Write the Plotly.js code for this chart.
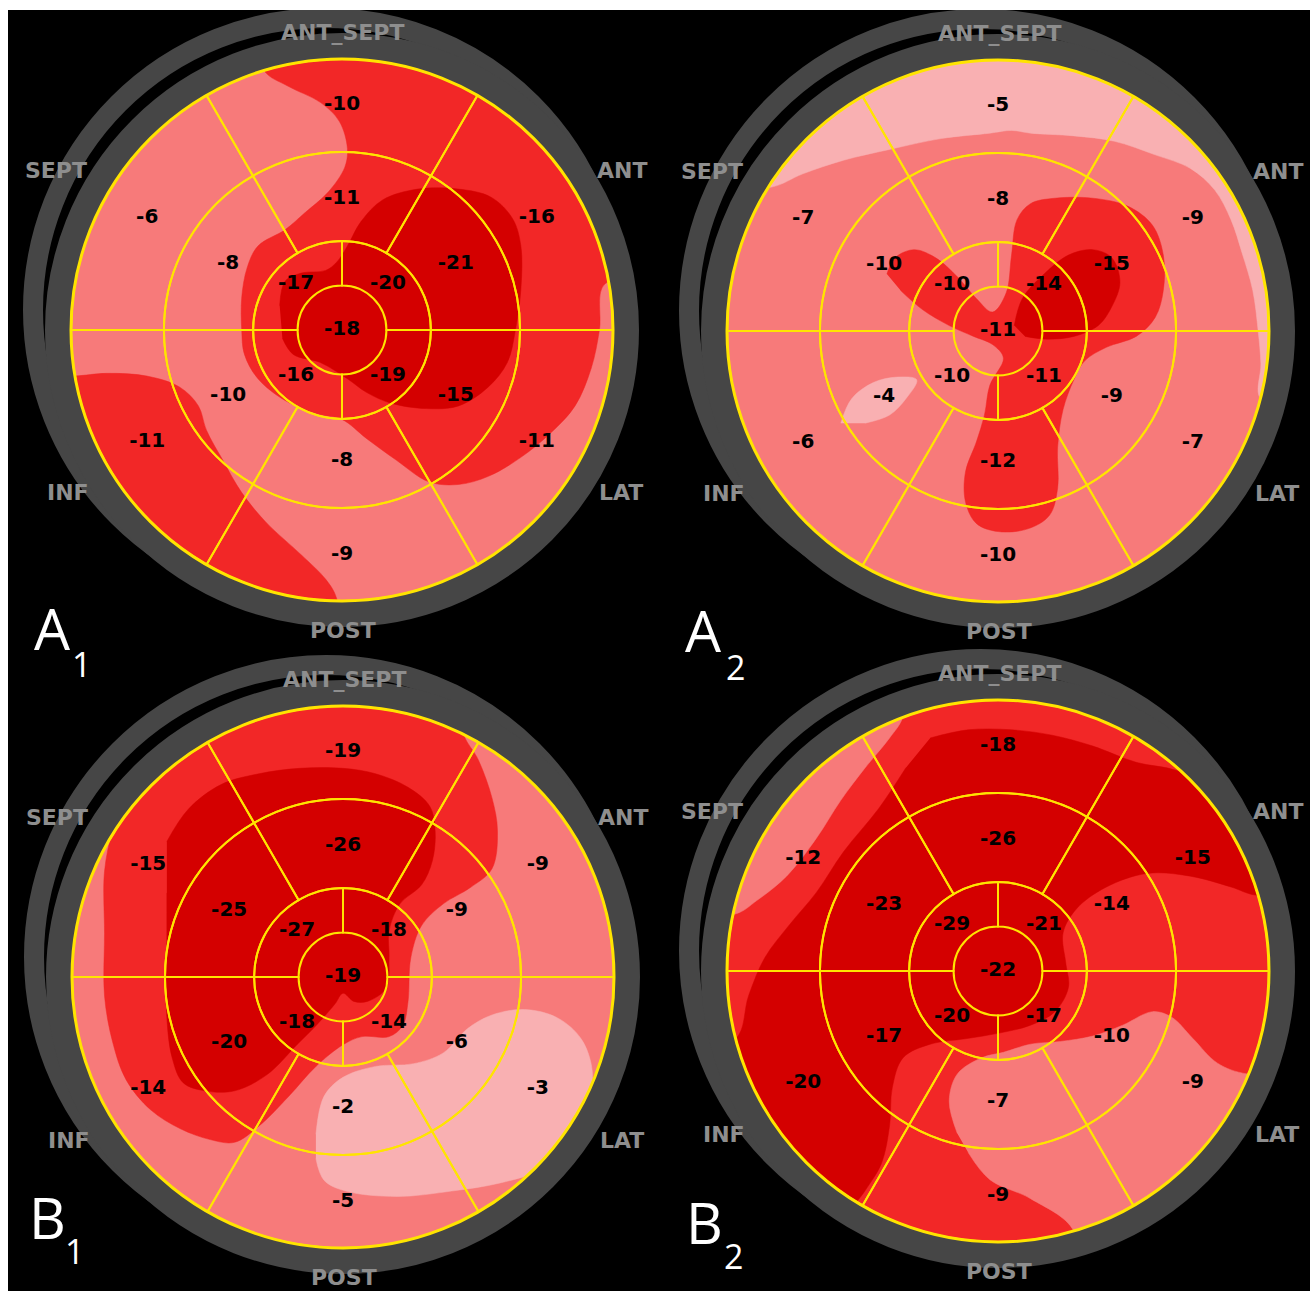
<!DOCTYPE html>
<html>
<head>
<meta charset="utf-8">
<script src="https://cdn.plot.ly/plotly-3.0.1.min.js"></script>
<style>
  html, body { margin: 0; padding: 0; background: #ffffff; overflow: hidden; }
  #chart { position: absolute; left: 8px; top: 10px; width: 1302px; height: 1281px; }
</style>
</head>
<body>
<div id="chart"></div>
<script>
// ---------------- DATA ----------------
// Segment strain values. Basal / mid order: ANT, ANT_SEPT, SEPT, INF, POST, LAT
// Apical order: upper-right, upper-left, lower-left, lower-right
const A1_basal  = [-16, -10, -6, -11, -9, -11];
const A1_mid    = [-21, -11, -8, -10, -8, -15];
const A1_apical = [-20, -17, -16, -19];
const A1_apex   = [-18];

const A2_basal  = [-9, -5, -7, -6, -10, -7];
const A2_mid    = [-15, -8, -10, -4, -12, -9];
const A2_apical = [-14, -10, -10, -11];
const A2_apex   = [-11];

const B1_basal  = [-9, -19, -15, -14, -5, -3];
const B1_mid    = [-9, -26, -25, -20, -2, -6];
const B1_apical = [-18, -27, -18, -14];
const B1_apex   = [-19];

const B2_basal  = [-15, -18, -12, -20, -9, -9];
const B2_mid    = [-14, -26, -23, -17, -7, -10];
const B2_apical = [-21, -29, -20, -17];
const B2_apex   = [-22];

const WALL_LABELS = ['ANT_SEPT', 'SEPT', 'ANT', 'INF', 'LAT', 'POST'];
const PANEL_LETTERS = ['A', 'A', 'B', 'B'];
const PANEL_SUBS = ['1', '2', '1', '2'];

// Colour-map region outlines
// (x to the right, y upward, in units of the bull's-eye radius)
const A1_red_top_x = [-0.34,-0.29,-0.20,-0.08,-0.01,0.02,0.01,-0.05,-0.14,-0.21,-0.31,-0.35,-0.37,-0.37,-0.36,-0.31,-0.21,-0.09,0.00,0.09,0.20,0.32,0.43,0.54,0.66,0.77,0.86,0.92,0.95,0.97,1.20,1.20];
const A1_red_top_y = [1.20,0.96,0.90,0.84,0.77,0.67,0.60,0.51,0.43,0.37,0.31,0.23,0.12,0.00,-0.09,-0.18,-0.26,-0.31,-0.33,-0.40,-0.48,-0.56,-0.57,-0.54,-0.47,-0.38,-0.28,-0.14,0.00,0.17,0.17,1.20];
const A1_red_low_x = [-1.20,-0.99,-0.87,-0.72,-0.60,-0.53,-0.50,-0.44,-0.37,-0.28,-0.15,-0.06,-0.02,0.00,-1.20];
const A1_red_low_y = [-0.17,-0.17,-0.16,-0.17,-0.21,-0.28,-0.37,-0.48,-0.60,-0.71,-0.83,-0.92,-0.99,-1.20,-1.20];
const A1_dark_x = [-0.23,-0.21,-0.15,-0.06,-0.02,0.02,0.07,0.15,0.28,0.43,0.55,0.63,0.66,0.66,0.64,0.61,0.54,0.43,0.31,0.18,0.09,0.02,-0.08,-0.18,-0.22];
const A1_dark_y = [0.09,0.18,0.21,0.22,0.25,0.31,0.40,0.48,0.52,0.52,0.49,0.41,0.31,0.15,0.00,-0.12,-0.21,-0.28,-0.29,-0.27,-0.23,-0.18,-0.12,-0.09,-0.03];

const A2_light_cap_x = [-1.20,-0.84,-0.72,-0.57,-0.40,-0.21,-0.03,0.05,0.12,0.28,0.43,0.58,0.71,0.80,0.86,0.90,0.94,0.96,0.97,0.97,1.20,1.20,-1.20];
const A2_light_cap_y = [0.53,0.53,0.58,0.63,0.67,0.71,0.73,0.74,0.73,0.72,0.70,0.65,0.60,0.52,0.41,0.29,0.15,0.00,-0.12,-0.25,-0.25,1.20,1.20];
const A2_light_blob_x = [-0.58,-0.54,-0.46,-0.37,-0.30,-0.34,-0.40,-0.49];
const A2_light_blob_y = [-0.34,-0.25,-0.19,-0.17,-0.18,-0.25,-0.31,-0.34];
const A2_red_x = [-0.41,-0.38,-0.31,-0.23,-0.15,-0.08,-0.02,0.03,0.05,0.07,0.12,0.21,0.35,0.48,0.57,0.61,0.61,0.58,0.51,0.40,0.32,0.28,0.24,0.22,0.22,0.19,0.11,0.00,-0.08,-0.12,-0.12,-0.08,-0.05,-0.03,0.02,-0.02,-0.09,-0.18,-0.28,-0.36];
const A2_red_y = [0.21,0.27,0.30,0.27,0.20,0.12,0.07,0.14,0.28,0.41,0.47,0.49,0.49,0.46,0.39,0.28,0.15,0.05,-0.02,-0.06,-0.11,-0.18,-0.29,-0.43,-0.58,-0.68,-0.73,-0.74,-0.71,-0.63,-0.52,-0.41,-0.31,-0.20,-0.10,-0.05,-0.02,0.02,0.08,0.15];
const A2_dark_x = [0.06,0.09,0.17,0.26,0.35,0.42,0.45,0.42,0.37,0.28,0.18,0.10];
const A2_dark_y = [0.02,0.12,0.21,0.28,0.30,0.27,0.18,0.09,0.02,-0.02,-0.03,-0.02];

const B1_red_x = [-0.62,-0.62,-0.71,-0.80,-0.85,-0.88,-0.88,-0.88,-0.85,-0.80,-0.71,-0.60,-0.49,-0.40,-0.31,-0.20,-0.10,0.00,0.07,0.17,0.22,0.24,0.25,0.29,0.37,0.47,0.55,0.57,0.55,0.50,0.44,0.44];
const B1_red_y = [1.20,0.86,0.77,0.66,0.54,0.39,0.16,-0.07,-0.24,-0.38,-0.49,-0.56,-0.60,-0.61,-0.55,-0.44,-0.33,-0.25,-0.22,-0.22,-0.18,-0.09,0.07,0.19,0.27,0.33,0.40,0.54,0.66,0.80,0.91,1.20];
const B1_dark_x = [-0.65,-0.57,-0.45,-0.31,-0.16,0.00,0.12,0.24,0.32,0.34,0.33,0.29,0.21,0.17,0.17,0.16,0.09,0.04,0.00,-0.03,-0.10,-0.17,-0.28,-0.40,-0.51,-0.59,-0.63,-0.65,-0.65,-0.65];
const B1_dark_y = [0.50,0.62,0.71,0.75,0.77,0.77,0.75,0.70,0.63,0.54,0.43,0.34,0.27,0.17,0.07,-0.04,-0.09,-0.09,-0.06,-0.10,-0.18,-0.25,-0.36,-0.42,-0.42,-0.39,-0.30,-0.15,0.08,0.31];
const B1_light_x = [-0.10,-0.07,0.00,0.12,0.26,0.37,0.46,0.55,0.67,0.79,0.88,0.92,0.90,0.84,0.73,0.58,0.40,0.20,0.01,-0.07,-0.10];
const B1_light_y = [-0.58,-0.44,-0.37,-0.33,-0.32,-0.28,-0.19,-0.14,-0.12,-0.15,-0.23,-0.35,-0.49,-0.61,-0.71,-0.76,-0.79,-0.81,-0.79,-0.75,-0.67];

const B2_pink_cap_x = [-1.20,-0.33,-0.35,-0.40,-0.49,-0.58,-0.67,-0.78,-0.89,-0.97,-1.20];
const B2_pink_cap_y = [1.20,1.20,0.94,0.86,0.75,0.63,0.49,0.35,0.26,0.21,0.21];
const B2_pink_low_x = [-0.15,-0.18,-0.15,-0.06,0.02,0.12,0.23,0.35,0.46,0.57,0.64,0.72,0.81,0.92,1.20,1.20,0.28,0.28,0.12,-0.03,-0.11];
const B2_pink_low_y = [-0.60,-0.48,-0.38,-0.32,-0.30,-0.27,-0.26,-0.24,-0.20,-0.15,-0.17,-0.25,-0.34,-0.38,-0.38,-1.20,-1.20,-0.96,-0.84,-0.77,-0.67];
const B2_dark_x = [-0.25,-0.11,0.05,0.20,0.35,0.51,0.66,0.80,0.90,1.20,1.20,0.95,0.86,0.71,0.55,0.40,0.29,0.24,0.25,0.26,0.21,0.12,0.00,-0.12,-0.25,-0.35,-0.39,-0.40,-0.43,-0.49,-0.55,-0.60,-1.20,-1.20,-0.97,-0.92,-0.86,-0.77,-0.67,-0.57,-0.44,-0.34];
const B2_dark_y = [0.86,0.89,0.89,0.87,0.83,0.77,0.74,0.67,0.57,0.57,0.28,0.28,0.31,0.35,0.36,0.31,0.23,0.14,0.03,-0.06,-0.15,-0.20,-0.23,-0.25,-0.27,-0.32,-0.43,-0.57,-0.71,-0.81,-0.90,-1.20,-1.20,-0.25,-0.25,-0.09,0.05,0.17,0.29,0.44,0.60,0.75];

// ---------------- GEOMETRY & STYLE ----------------
const W = 1302, H = 1281, OX = 8, OY = 10, R = 271;
const fx = px => (px - OX) / W;
const fy = py => 1 - (py - OY) / H;
const LEVEL_COLOURS = ['#F9B0B2', '#F77A7A', '#F22727', '#D40000'];
const YELLOW = '#FFE400';
const RING_GREY = '#464646';
const LABEL_GREY = '#8E8E8E';

// ring edges (fraction of radius)
const R_APEX = 0.164, R_APICAL = 0.328, R_MID = 0.657, R_OUT = 1.0;
const BASAL_THETA = [30, 90, 150, 210, 270, 330];
const APICAL_THETA = [45, 135, 225, 315];
const TXT_R = {basal: 0.83, mid: 0.485, apical: 0.24};
const WALL_OFFSETS = {ANT_SEPT: [1, -298], SEPT: [-286, -160], ANT: [280, -160], INF: [-274, 163], LAT: [279, 163], POST: [1, 300]};

const panels = [
  {cx: 342, cy: 330, base: 1, basal: A1_basal, mid: A1_mid, apical: A1_apical, apex: A1_apex,
   letterPos: [52, 628], subPos: [81, 664],
   regions: [[A1_red_top_x, A1_red_top_y, 2], [A1_red_low_x, A1_red_low_y, 2], [A1_dark_x, A1_dark_y, 3]]},
  {cx: 998, cy: 331, base: 1, basal: A2_basal, mid: A2_mid, apical: A2_apical, apex: A2_apex,
   letterPos: [703, 630], subPos: [735, 667],
   regions: [[A2_light_cap_x, A2_light_cap_y, 0], [A2_light_blob_x, A2_light_blob_y, 0], [A2_red_x, A2_red_y, 2], [A2_dark_x, A2_dark_y, 3]]},
  {cx: 343, cy: 977, base: 1, basal: B1_basal, mid: B1_mid, apical: B1_apical, apex: B1_apex,
   letterPos: [47, 1217], subPos: [74, 1251],
   regions: [[B1_red_x, B1_red_y, 2], [B1_dark_x, B1_dark_y, 3], [B1_light_x, B1_light_y, 0]]},
  {cx: 998, cy: 971, base: 2, basal: B2_basal, mid: B2_mid, apical: B2_apical, apex: B2_apex,
   letterPos: [704, 1222], subPos: [733, 1256],
   regions: [[B2_pink_cap_x, B2_pink_cap_y, 1], [B2_pink_low_x, B2_pink_low_y, 1], [B2_dark_x, B2_dark_y, 3]]}
];

const traces = [];
const layout = {
  width: W, height: H,
  margin: {l: 0, r: 0, t: 0, b: 0},
  paper_bgcolor: '#000000',
  plot_bgcolor: '#000000',
  showlegend: false,
  shapes: [],
  annotations: []
};

panels.forEach((p, i) => {
  const back = i === 0 ? 'polar' : 'polar' + (i + 1);
  const front = 'polar' + (i + 5);
  const dom = {x: [fx(p.cx - R), fx(p.cx + R)], y: [fy(p.cy + R), fy(p.cy - R)]};

  layout[back] = {
    domain: dom, bgcolor: LEVEL_COLOURS[p.base], hole: 0,
    radialaxis: {visible: false, range: [0, 1]},
    angularaxis: {visible: false, rotation: 0, direction: 'counterclockwise'}
  };
  layout[front] = {
    domain: dom, bgcolor: 'rgba(0,0,0,0)', hole: 0,
    radialaxis: {visible: false, range: [0, 1]},
    angularaxis: {visible: true, rotation: 0, direction: 'counterclockwise', showline: true,
                  linecolor: YELLOW, linewidth: 3, showgrid: false, showticklabels: false,
                  ticks: '', layer: 'above traces'}
  };

  // colour-map regions
  p.regions.forEach(([xs, ys, lvl]) => {
    traces.push({
      type: 'scatterpolar', subplot: back, mode: 'lines', fill: 'toself',
      fillcolor: LEVEL_COLOURS[lvl],
      line: {color: LEVEL_COLOURS[lvl], width: 0.5, shape: 'spline', smoothing: 1},
      r: xs.map((x, k) => Math.hypot(x, ys[k])),
      theta: xs.map((x, k) => Math.atan2(ys[k], x) * 180 / Math.PI),
      hoverinfo: 'skip', showlegend: false
    });
  });

  // 16 outer segments as outlined bars
  const segR = [], segBase = [], segTheta = [], segWidth = [];
  BASAL_THETA.forEach(t => { segR.push(R_OUT - R_MID); segBase.push(R_MID); segTheta.push(t); segWidth.push(60); });
  BASAL_THETA.forEach(t => { segR.push(R_MID - R_APICAL); segBase.push(R_APICAL); segTheta.push(t); segWidth.push(60); });
  APICAL_THETA.forEach(t => { segR.push(R_APICAL - R_APEX); segBase.push(R_APEX); segTheta.push(t); segWidth.push(90); });
  traces.push({
    type: 'barpolar', subplot: front, r: segR, base: segBase, theta: segTheta, width: segWidth,
    marker: {color: 'rgba(0,0,0,0)', line: {color: YELLOW, width: 2}},
    hoverinfo: 'skip', showlegend: false
  });

  // segment values
  const vals = [...p.basal, ...p.mid, ...p.apical, ...p.apex];
  const tr = [...p.basal.map(() => TXT_R.basal), ...p.mid.map(() => TXT_R.mid), ...p.apical.map(() => TXT_R.apical), 0];
  const tt = [...BASAL_THETA, ...BASAL_THETA, ...APICAL_THETA, 0];
  traces.push({
    type: 'scatterpolar', subplot: front, mode: 'text', r: tr, theta: tt,
    text: vals.map(v => String(v)), textposition: 'middle center',
    textfont: {family: 'DejaVu Sans', size: 20, color: '#000000', weight: 'bold'},
    hoverinfo: 'skip', showlegend: false
  });

  // grey rings around the bull's-eye (offset outer arc + main ring)
  layout.shapes.push({
    type: 'circle', xref: 'paper', yref: 'paper', xsizemode: 'pixel', ysizemode: 'pixel',
    xanchor: fx(p.cx - 17), yanchor: fy(p.cy - 20), x0: -292, x1: 292, y0: -292, y1: 292,
    line: {color: RING_GREY, width: 20}, fillcolor: 'rgba(0,0,0,0)', layer: 'below'
  });
  layout.shapes.push({
    type: 'circle', xref: 'paper', yref: 'paper', xsizemode: 'pixel', ysizemode: 'pixel',
    xanchor: fx(p.cx), yanchor: fy(p.cy), x0: -284, x1: 284, y0: -284, y1: 284,
    line: {color: RING_GREY, width: 26}, fillcolor: 'rgba(0,0,0,0)', layer: 'below'
  });

  // wall labels
  WALL_LABELS.forEach(lab => {
    const o = WALL_OFFSETS[lab];
    layout.annotations.push({
      xref: 'paper', yref: 'paper', x: fx(p.cx + o[0]), y: fy(p.cy + o[1]),
      text: lab, showarrow: false, xanchor: 'center', yanchor: 'middle',
      font: {family: 'DejaVu Sans', size: 22, color: LABEL_GREY, weight: 'bold'}
    });
  });

  // panel letter + subscript
  layout.annotations.push({
    xref: 'paper', yref: 'paper', x: fx(p.letterPos[0]), y: fy(p.letterPos[1]),
    text: PANEL_LETTERS[i], showarrow: false, xanchor: 'center', yanchor: 'middle',
    font: {family: 'Open Sans', size: 57, color: '#ffffff'}
  });
  layout.annotations.push({
    xref: 'paper', yref: 'paper', x: fx(p.subPos[0]), y: fy(p.subPos[1]),
    text: PANEL_SUBS[i], showarrow: false, xanchor: 'center', yanchor: 'middle',
    font: {family: 'Open Sans', size: 34, color: '#ffffff'}
  });
});

Plotly.newPlot('chart', traces, layout, {staticPlot: true, displayModeBar: false});
</script>
</body>
</html>
